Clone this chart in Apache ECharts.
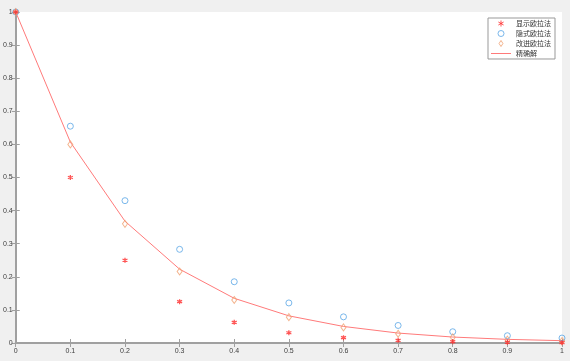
<!DOCTYPE html>
<html><head><meta charset="utf-8">
<script src="https://cdn.jsdelivr.net/npm/echarts@6/dist/echarts.min.js"></script>
<style>html,body{margin:0;padding:0;background:#f0f0f0}#c{width:570px;height:361px}</style>
</head><body><div id="c"></div>
<script>
var xs = [0,0.1,0.2,0.3,0.4,0.5,0.6,0.7,0.8,0.9,1];
var explicitY = [1,0.5,0.25,0.125,0.0625,0.031,0.016,0.008,0.004,0.002,0.001];
var implicitY = [1,0.655,0.43,0.283,0.185,0.121,0.079,0.053,0.034,0.022,0.015];
var improvedY = [1,0.6,0.36,0.216,0.13,0.078,0.047,0.028,0.017,0.010,0.006];
var exactY = [1,0.607,0.368,0.223,0.135,0.082,0.05,0.03,0.018,0.011,0.007];
var names = ['显示欧拉法','隐式欧拉法','改进欧拉法','精确解'];
function pts(ys){return xs.map(function(x,i){return [x,ys[i]];});}
var axisCol = '#a0a0a0';
var cRed = '#ff2a2a', cBlue = '#5aa6e6', cOrange = '#f0a070', cLine = '#ff7a7a';
var clear = 'rgba(255,122,122,0)';
var lineGrad = {type:'linear',x:0,y:0,x2:0,y2:1,colorStops:[
  {offset:0,color:clear},{offset:0.42,color:clear},{offset:0.42,color:cLine},
  {offset:0.6,color:cLine},{offset:0.6,color:clear},{offset:1,color:clear}]};
var chart = echarts.init(document.getElementById('c'));
var star = 'path://M0,-1L0,1M-0.87,-0.5L0.87,0.5M-0.87,0.5L0.87,-0.5';
var circ = 'path://M0,-1A1,1,0,1,1,0,1A1,1,0,1,1,0,-1Z';
var diam = 'path://M0,-1L0.65,0L0,1L-0.65,0Z';
var lbl = {color:'#404040',fontSize:7,fontFamily:'Arial'};
function fmt(v){return +v.toFixed(1)+'';}
chart.setOption({
  backgroundColor:'#f0f0f0',
  animation:false,
  grid:{left:14,top:12,right:8,bottom:18,show:true,backgroundColor:'#ffffff',borderWidth:0},
  xAxis:[{type:'value',min:0,max:1,interval:0.1,position:'bottom',
    axisLine:{show:true,lineStyle:{color:axisCol,width:2}},
    axisTick:{show:true,inside:true,length:4,lineStyle:{color:axisCol}},
    axisLabel:Object.assign({formatter:fmt,margin:5},lbl),
    splitLine:{show:false}},
   {type:'value',min:0,max:1,interval:0.1,position:'top',
    axisLine:{show:true,lineStyle:{color:axisCol,width:2}},
    axisTick:{show:true,inside:true,length:4,lineStyle:{color:axisCol}},
    axisLabel:{show:false},splitLine:{show:false}}],
  yAxis:[{type:'value',min:0,max:1,interval:0.1,position:'left',
    axisLine:{show:true,lineStyle:{color:axisCol,width:2}},
    axisTick:{show:true,inside:true,length:4,lineStyle:{color:axisCol}},
    axisLabel:Object.assign({formatter:fmt,margin:3},lbl),
    splitLine:{show:false}},
   {type:'value',min:0,max:1,interval:0.1,position:'right',
    axisLine:{show:true,lineStyle:{color:axisCol,width:2}},
    axisTick:{show:true,inside:true,length:4,lineStyle:{color:axisCol}},
    axisLabel:{show:false},splitLine:{show:false}}],
  legend:{orient:'vertical',right:15,top:18,padding:[2,4,2,3],itemGap:3,itemWidth:20,itemHeight:6,
    symbolKeepAspect:true,
    backgroundColor:'#ffffff',borderColor:'#999999',borderWidth:1,borderRadius:0,
    textStyle:{fontSize:7,color:'#333',fontFamily:'Noto Sans CJK SC',padding:[0,0,0,0]},
    data:[
      {name:names[0],icon:star,itemStyle:{color:cRed,borderColor:cRed,borderWidth:1}},
      {name:names[1],icon:circ,itemStyle:{color:'rgba(0,0,0,0)',borderColor:cBlue,borderWidth:1}},
      {name:names[2],icon:diam,itemStyle:{color:'rgba(0,0,0,0)',borderColor:cOrange,borderWidth:1}},
      {name:names[3],icon:'rect',itemStyle:{color:lineGrad,borderWidth:0}}]},
  series:[
    {name:names[0],type:'scatter',data:pts(explicitY),symbol:star,symbolSize:5,
      itemStyle:{color:cRed,borderColor:cRed,borderWidth:1.3},z:5},
    {name:names[1],type:'scatter',data:pts(implicitY),symbol:circ,symbolSize:6,
      itemStyle:{color:'rgba(0,0,0,0)',borderColor:cBlue,borderWidth:1},z:4},
    {name:names[2],type:'scatter',data:pts(improvedY),symbol:diam,symbolSize:[5,7],
      itemStyle:{color:'rgba(0,0,0,0)',borderColor:cOrange,borderWidth:1},z:4},
    {name:names[3],type:'line',data:pts(exactY),showSymbol:false,symbol:'none',
      lineStyle:{color:cLine,width:1},itemStyle:{color:cLine},z:3}
  ]
});
</script></body></html>
